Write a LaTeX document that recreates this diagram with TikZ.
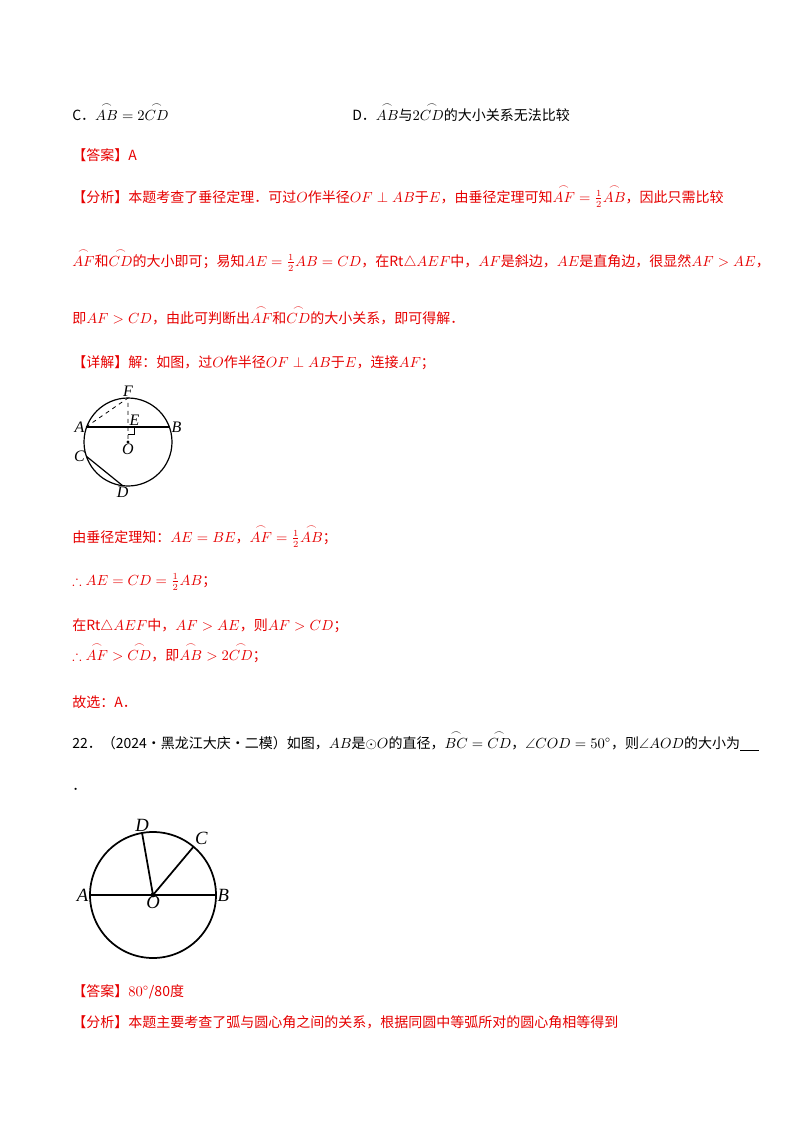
\documentclass[tikz,border=0pt]{standalone}
\usepackage{fontspec}
\usepackage{amsmath,amssymb}
\usetikzlibrary{calc}
\setmainfont{Liberation Serif}
\newfontfamily\cjk{Noto Sans CJK SC}
\definecolor{ans}{RGB}{230,0,0}
\newcommand{\arcx}[1]{\overset{\frown}{#1}}
\begin{document}
\begin{tikzpicture}[x=0.75pt,y=-0.75pt,
  t/.style={anchor=base west,inner sep=0,font=\cjk\fontsize{10.5}{12}\selectfont},
  r/.style={t,text=ans},
  lab/.style={font=\itshape\fontsize{12}{14}\selectfont,inner sep=1pt},
  fig/.style={line width=0.9pt}]
\useasboundingbox (0,0) rectangle (800,1132);
\node[t] (c) at (72,120) {C．$\arcx{AB}=2\arcx{CD}$};
\node[t] (d) at (352,120) {D．$\arcx{AB}$与$2\arcx{CD}$的大小关系无法比较};
\node[r] (a1) at (72,160) {【答案】A};
\node[r] (f1) at (72,202) {【分析】本题考查了垂径定理．可过$O$作半径$OF\perp AB$于$E$，由垂径定理可知$\arcx{AF}=\frac12\arcx{AB}$，因此只需比较};
\node[r] (f2) at (72,266) {$\arcx{AF}$和$\arcx{CD}$的大小即可；易知$AE=\frac12AB=CD$，在Rt$\triangle AEF$中，$AF$是斜边，$AE$是直角边，很显然$AF>AE$，};
\node[r] (f3) at (72,323) {即$AF>CD$，由此可判断出$\arcx{AF}$和$\arcx{CD}$的大小关系，即可得解．};
\node[r] (x1) at (72,367) {【详解】解：如图，过$O$作半径$OF\perp AB$于$E$，连接$AF$；};
% figure 1
\coordinate (O1) at (128,442);
\draw[fig] (O1) circle (44);
\coordinate (A1) at (86,427); \coordinate (B1) at (170,427);
\coordinate (F1) at (128,398); \coordinate (E1) at (128,427);
\coordinate (C1) at ($(O1)+(161:44)$); \coordinate (D1) at ($(O1)+(97:44)$);
\draw[fig] (A1) -- (B1);
\draw[fig] (C1) -- (D1);
\draw[dashed,line width=0.6pt] (A1) -- (F1) -- (O1);
\draw[line width=0.6pt] (128,434) -- (134,434) -- (134,427);
\fill (O1) circle (1.6);
\node[lab,anchor=south] at (F1) {F};
\node[lab,anchor=south west] at (E1) {E};
\node[lab,anchor=east] at (A1) {A};
\node[lab,anchor=west] at (B1) {B};
\node[lab,anchor=east] at (C1) {C};
\node[lab,anchor=north] at (D1) {D};
\node[lab,anchor=north] at (O1) {O};
\node[r] (s1) at (72,542) {由垂径定理知：$AE=BE$，$\arcx{AF}=\frac12\arcx{AB}$；};
\node[r] (s2) at (72,585) {$\therefore AE=CD=\frac12AB$；};
\node[r] (s3) at (72,630) {在Rt$\triangle AEF$中，$AF>AE$，则$AF>CD$；};
\node[r] (s4) at (72,660) {$\therefore\arcx{AF}>\arcx{CD}$，即$\arcx{AB}>2\arcx{CD}$；};
\node[r] (s5) at (72,707) {故选：A．};
\node[t] (q) at (72,748) {22．（2024·黑龙江大庆·二模）如图，$AB$是$\odot O$的直径，$\arcx{BC}=\arcx{CD}$，$\angle COD=50^\circ$，则$\angle AOD$的大小为\rule[-2pt]{14pt}{0.5pt}};
\node[t] (dot) at (72,790) {．};
% figure 2
\coordinate (O2) at (153,895);
\draw[line width=1.3pt] (O2) circle (63);
\coordinate (A2) at (90,895); \coordinate (B2) at (216,895);
\coordinate (D2) at ($(O2)+(-100:63)$);
\coordinate (C2) at ($(O2)+(-50:63)$);
\draw[line width=1.3pt] (A2) -- (B2) (O2) -- (D2) (O2) -- (C2);
\fill (O2) circle (2.4);
\node[lab,font=\itshape\fontsize{14}{16}\selectfont,anchor=east] at (A2) {A};
\node[lab,font=\itshape\fontsize{14}{16}\selectfont,anchor=west] at (B2) {B};
\node[lab,font=\itshape\fontsize{14}{16}\selectfont,anchor=south] at (D2) {D};
\node[lab,font=\itshape\fontsize{14}{16}\selectfont,anchor=south west] at (C2) {C};
\node[lab,font=\itshape\fontsize{14}{16}\selectfont,anchor=north] at (O2) {O};
\node[r] (a2) at (72,996) {【答案】$80^\circ$/80度};
\node[r] (f4) at (72,1027) {【分析】本题主要考查了弧与圆心角之间的关系，根据同圆中等弧所对的圆心角相等得到};
\end{tikzpicture}
\end{document}
